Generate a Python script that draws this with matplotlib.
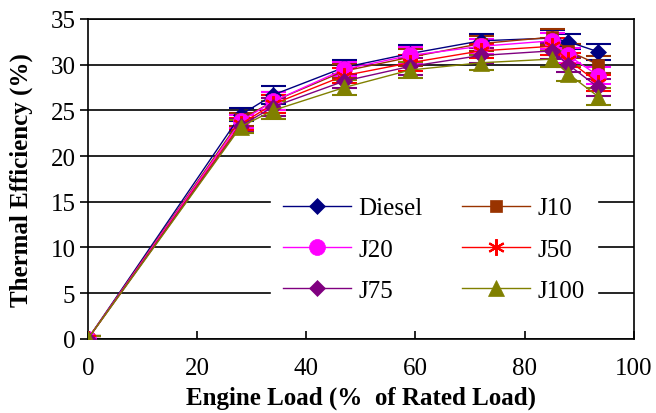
import matplotlib
matplotlib.use("Agg")
import matplotlib.pyplot as plt

load = [0, 28, 34, 47, 59, 72, 85, 88, 93.5]
diesel = [0, 24.5, 26.7, 29.7, 31.2, 32.6, 32.9, 32.5, 31.4]
j10 = [0, 24.0, 26.0, 29.3, 30.8, 32.3, 33.0, 31.5, 30.0]
j20 = [0, 23.8, 26.0, 29.5, 31.0, 32.0, 32.6, 31.0, 28.8]
j50 = [0, 23.5, 25.7, 28.8, 30.2, 31.5, 32.0, 30.5, 28.0]
j75 = [0, 23.3, 25.4, 28.2, 29.8, 31.0, 31.5, 30.0, 27.5]
j100 = [0, 23.2, 25.0, 27.5, 29.4, 30.2, 30.6, 29.0, 26.5]
err = [0.3, 0.7, 1.0, 0.8, 0.9, 0.8, 0.9, 0.8, 0.9]

series = [
    ("Diesel", diesel, "#000080", "D", 8),
    ("J10", j10, "#993300", "s", 8.5),
    ("J20", j20, "#FF00FF", "o", 11.5),
    ("J50", j50, "#FF0000", (6, 2, 0), 12),
    ("J75", j75, "#800080", "D", 8),
    ("J100", j100, "#808000", "^", 11),
]

plt.rcParams['font.family'] = ['Liberation Serif', 'DejaVu Serif']
fig = plt.figure(figsize=(6.56, 4.14), dpi=100)
ax = fig.add_axes([0.134, 0.179, 0.832, 0.773])

handles = []
for name, vals, col, mk, ms in series:
    ax.errorbar(load, vals, yerr=err, color=col, ecolor=col, elinewidth=1, capsize=9,
                capthick=1.5, zorder=3, fmt='none')
    h, = ax.plot(load, vals, color=col, marker=mk, markersize=ms, lw=1.0,
                 markeredgewidth=1.5 if mk == (6, 2, 0) else 0.5, markeredgecolor=col,
                 zorder=4, label=name)
    handles.append(h)

ax.set_xlim(0, 100)
ax.set_ylim(0, 35)
ax.set_xticks([0, 20, 40, 60, 80, 100])
ax.set_yticks([0, 5, 10, 15, 20, 25, 30, 35])
ax.yaxis.grid(True, color='black', lw=1.2)
ax.set_axisbelow(True)
ax.tick_params(axis='x', direction='in', length=6, width=1.2, labelsize=18, pad=13)
ax.tick_params(axis='y', direction='out', length=6, width=1.2, labelsize=18, pad=3)
for s in ax.spines.values():
    s.set_linewidth(1.2)
ax.set_xlabel("Engine Load (%  of Rated Load)", fontsize=18, fontweight='bold', labelpad=5)
ax.set_ylabel("Thermal Efficiency (%)", fontsize=18, fontweight='bold')
ax.yaxis.set_label_coords(-0.101, 0.5)

leg = ax.legend(handles=[handles[i] for i in [0, 2, 4, 1, 3, 5]], ncol=2,
                loc='center', bbox_to_anchor=(0.634, 0.28), frameon=True, fontsize=18,
                handlelength=2.7, columnspacing=1.6, labelspacing=0.75, borderpad=0.5,
                handletextpad=0.3)
leg.get_frame().set_facecolor('white')
leg.get_frame().set_edgecolor('white')
leg.get_frame().set_alpha(1)
leg.get_frame().set_boxstyle('square', pad=0)

fig.savefig("out.png", dpi=100)
